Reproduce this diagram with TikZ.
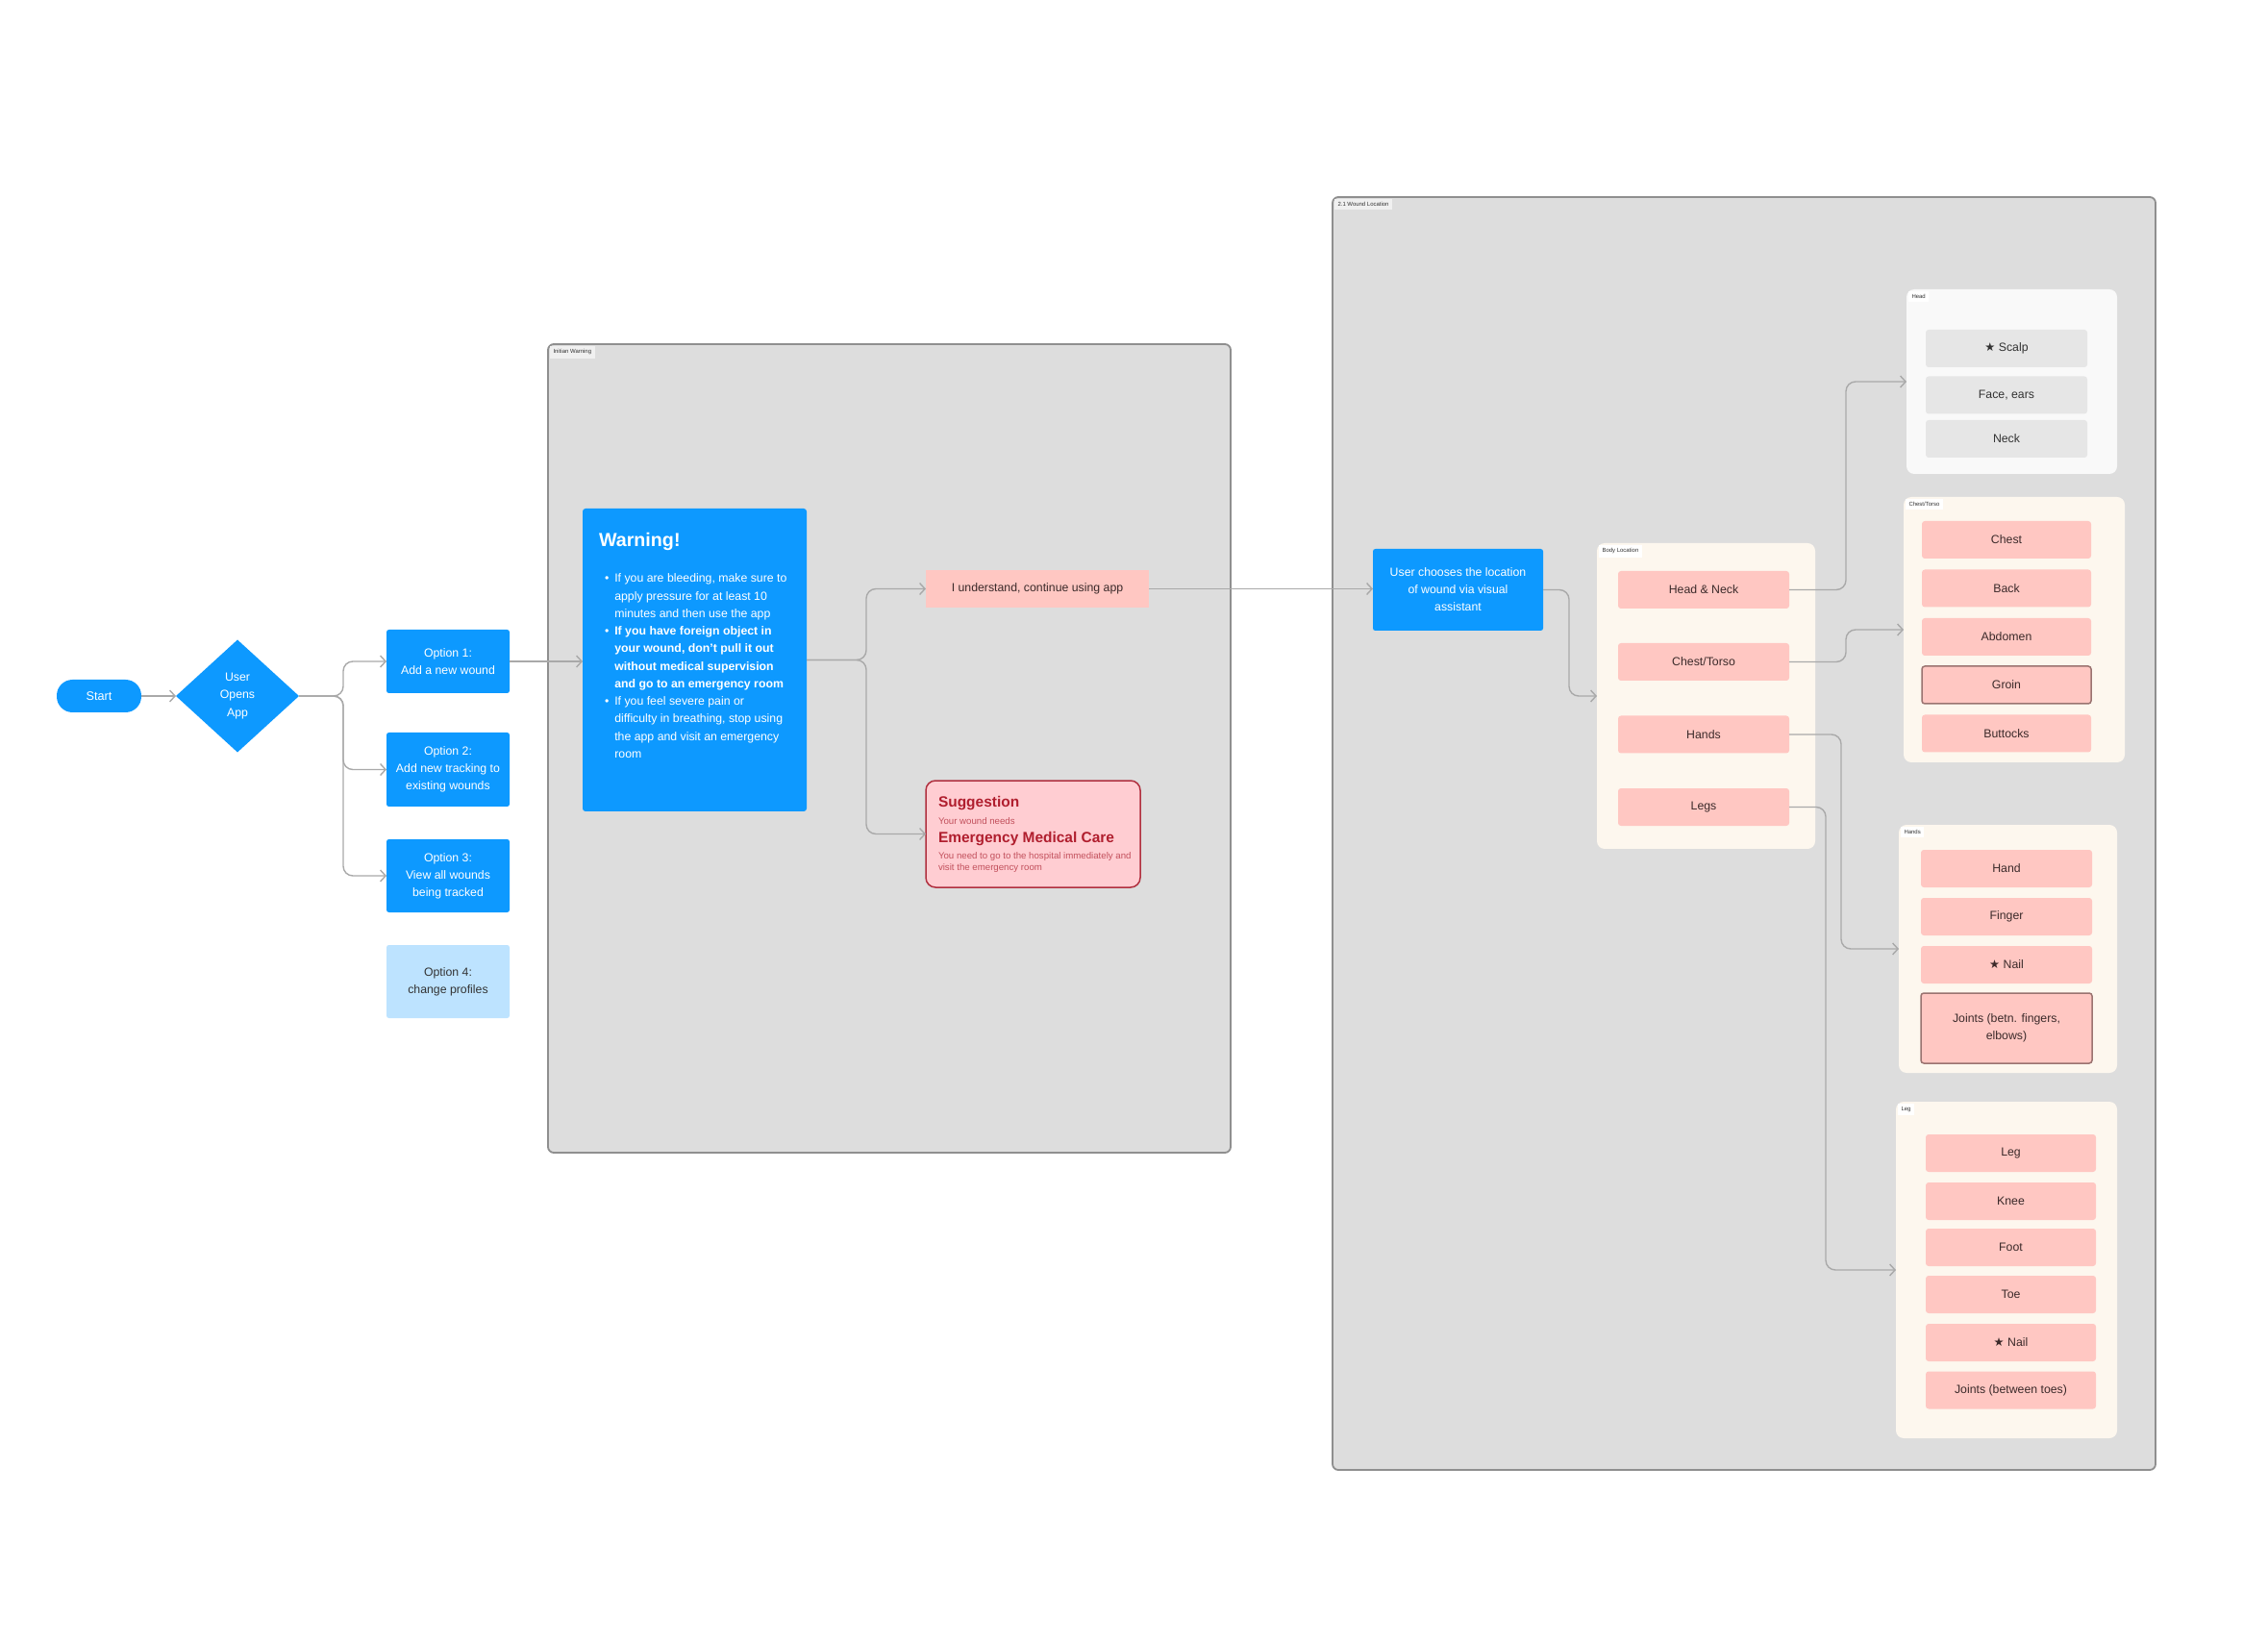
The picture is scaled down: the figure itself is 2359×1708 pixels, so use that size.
\documentclass[tikz,border=0pt]{standalone}
\usepackage{fontspec}
\setmainfont{Liberation Sans}
\newfontfamily\symfont{DejaVu Sans}
\usetikzlibrary{shapes.geometric,arrows.meta}
\newcommand{\fsz}[2]{\fontsize{#1}{#2}\selectfont}
\definecolor{figblue}{HTML}{0D99FF}
\definecolor{lightblue}{HTML}{BDE3FF}
\definecolor{pinkitem}{HTML}{FFC7C2}
\definecolor{framegray}{HTML}{DDDDDD}
\definecolor{frameedge}{HTML}{8F8F8F}
\definecolor{cream}{HTML}{FDF7EE}
\definecolor{headbg}{HTML}{F9F9F9}
\definecolor{grayitem}{HTML}{E6E6E6}
\definecolor{linegray}{HTML}{A9A9A9}
\definecolor{darktext}{HTML}{3B2A2A}
\definecolor{sugfill}{HTML}{FFCDD2}
\definecolor{sugedge}{HTML}{B0303F}
\definecolor{sugtext}{HTML}{B01E2E}
\definecolor{sugsmall}{HTML}{C2505C}
\definecolor{itemedge}{HTML}{9A7370}
\begin{document}
\begin{tikzpicture}[x=0.1mm,y=-0.1mm,
  every node/.style={inner sep=0pt, outer sep=0pt},
  conn/.style={draw=linegray, line width=0.14mm, rounded corners=1mm, -{Straight Barb[length=0.55mm,width=1.2mm]}},
  bigframe/.style={draw=frameedge, fill=framegray, line width=0.18mm, rounded corners=0.6mm},
  subframe/.style={fill=cream, rounded corners=0.8mm},
  tag/.style={fill=white!55!framegray, font=\fsz{1.7}{2}, text=black!80, inner sep=0.35mm, anchor=north west},
  bluebox/.style={fill=figblue, text=white, rounded corners=0.25mm, align=center, font=\fsz{3.5}{5.1}},
  item/.style={fill=pinkitem, text=darktext, rounded corners=0.3mm, align=center, font=\fsz{3.5}{5.1}, minimum height=3.9mm},
  grayit/.style={fill=grayitem, text=black!80, rounded corners=0.3mm, align=center, font=\fsz{3.5}{5.1}, minimum height=3.9mm, minimum width=16.8mm},
  edged/.style={draw=itemedge, line width=0.15mm}
]
\useasboundingbox[fill=white] (0,0) rectangle (2359,1708);

% ---- frames ----
\node[bigframe, minimum width=71mm, minimum height=84.1mm] (fw) at (925,778.5) {};
\node[tag] (tw) at ([shift={(2,2)}]fw.north west) {Initian Warning};
\node[bigframe, minimum width=85.6mm, minimum height=132.4mm] (fl) at (1814,867) {};
\node[tag] (tl) at ([shift={(2,2)}]fl.north west) {2.1 Wound Location};

% ---- left flow ----
\node[fill=figblue, text=white, rounded corners=1.65mm, minimum width=8.8mm, minimum height=3.4mm, font=\fsz{3.6}{5}] (start) at (103,724) {Start};
\node[diamond, fill=figblue, text=white, minimum width=12.8mm, minimum height=11.7mm, align=center, font=\fsz{3.5}{5.3}] (dec) at (247,724) {User\\Opens\\App};
\node[bluebox, minimum width=12.8mm, minimum height=6.6mm] (opt1) at (466,688) {Option 1:\\Add a new wound};
\node[bluebox, minimum width=12.8mm, minimum height=7.7mm] (opt2) at (466,800.5) {Option 2:\\Add new tracking to\\existing wounds};
\node[bluebox, minimum width=12.8mm, minimum height=7.6mm] (opt3) at (466,911) {Option 3:\\View all wounds\\being tracked};
\node[bluebox, fill=lightblue, text=black!80, minimum width=12.8mm, minimum height=7.6mm] (opt4) at (466,1021) {Option 4:\\change profiles};

\coordinate (b1) at (357,724);
\draw[conn] (start) -- (dec);
\draw[conn] (dec.east) -- (b1) |- (opt1.west);
\draw[conn] (dec.east) -- (b1) |- (opt2.west);
\draw[conn] (dec.east) -- (b1) |- (opt3.west);

% ---- warning ----
\node[fill=figblue, rounded corners=0.3mm, minimum width=23.3mm, minimum height=31.5mm] (warn) at (722.5,686.5) {};
\node[anchor=west, text=white, font=\bfseries\fsz{5.6}{6}] (wtitle) at (623,563) {Warning!};
\node[anchor=north west, text=white, font=\fsz{3.5}{5.2}, align=left] (wtext) at (629,593) {%
\begin{tabular}{@{}l@{\hspace{0.6mm}}l@{}}
\textbullet & If you are bleeding, make sure to\\
 & apply pressure for at least 10\\
 & minutes and then use the app\\
\textbullet & \textbf{If you have foreign object in}\\
 & \textbf{your wound, don’t pull it out}\\
 & \textbf{without medical supervision}\\
 & \textbf{and go to an emergency room}\\
\textbullet & If you feel severe pain or\\
 & difficulty in breathing, stop using\\
 & the app and visit an emergency\\
 & room
\end{tabular}};
\draw[conn] (opt1.east) -- (opt1.east -| warn.west);

\node[fill=pinkitem, text=darktext, minimum width=23.2mm, minimum height=3.9mm, font=\fsz{3.5}{5}] (und) at (1079,612.5) {I understand, continue using app};
\node[fill=sugfill, draw=sugedge, line width=0.15mm, rounded corners=1mm, minimum width=22.3mm, minimum height=11.1mm] (sug) at (1074.5,867.5) {};
\node[anchor=west, font=\bfseries\fsz{4.4}{5}, text=sugtext] (s1) at (976,836) {Suggestion};
\node[anchor=west, font=\fsz{2.75}{3.3}, text=sugsmall] (s2) at (976,854) {Your wound needs};
\node[anchor=west, font=\bfseries\fsz{4.4}{5}, text=sugtext] (s3) at (976,873) {Emergency Medical Care};
\node[anchor=west, font=\fsz{2.75}{3.4}, text=sugsmall, align=left] (s4) at (976,897) {You need to go to the hospital immediately and\\visit the emergency room};

\coordinate (b2) at (901,686.5);
\draw[conn] (warn.east) -- (b2) |- (und.west);
\draw[conn] (warn.east) -- (b2) |- (sug.west);

% ---- wound location ----
\node[bluebox, minimum width=17.7mm, minimum height=8.5mm] (choose) at (1516.5,613.5) {User chooses the location\\of wound via visual\\assistant};
\draw[conn] (und.east) -- (und.east -| choose.west);

\node[subframe, minimum width=22.7mm, minimum height=31.8mm] (body) at (1774.5,724) {};
\node[tag, fill=white] (tb) at ([shift={(2,2)}]body.north west) {Body Location};
\node[item, minimum width=17.8mm] (hn) at (1772,613.5) {Head \& Neck};
\node[item, minimum width=17.8mm] (ct) at (1772,688.5) {Chest/Torso};
\node[item, minimum width=17.8mm] (hd) at (1772,764) {Hands};
\node[item, minimum width=17.8mm] (lg) at (1772,839.5) {Legs};

\coordinate (b3) at (1632,613.5);
\draw[conn] (choose.east) -- (b3) |- (body.west);

% head
\node[subframe, fill=headbg, minimum width=21.9mm, minimum height=19.2mm] (headf) at (2092.5,397) {};
\node[tag, fill=white] (th) at ([shift={(2,2)}]headf.north west) {Head};
\node[grayit] (scalp) at (2087,362.5) {{\symfont ★} Scalp};
\node[grayit] (face) at (2087,411) {Face, ears};
\node[grayit] (neck) at (2087,456.5) {Neck};

% chest
\node[subframe, minimum width=23mm, minimum height=27.6mm] (chestf) at (2095,655) {};
\node[tag, fill=white] (tc) at ([shift={(2,2)}]chestf.north west) {Chest/Torso};
\node[item, minimum width=17.6mm] (chest) at (2087,561.5) {Chest};
\node[item, minimum width=17.6mm] (back) at (2087,612) {Back};
\node[item, minimum width=17.6mm] (abd) at (2087,662.5) {Abdomen};
\node[item, edged, minimum width=17.6mm] (groin) at (2087,712.5) {Groin};
\node[item, minimum width=17.6mm] (butt) at (2087,763) {Buttocks};

% hands
\node[subframe, minimum width=22.7mm, minimum height=25.8mm] (handf) at (2088.5,987) {};
\node[tag, fill=white] (tha) at ([shift={(2,2)}]handf.north west) {Hands};
\node[item, minimum width=17.8mm] (hand) at (2087,903.5) {Hand};
\node[item, minimum width=17.8mm] (finger) at (2087,953.5) {Finger};
\node[item, minimum width=17.8mm] (hnail) at (2087,1003.5) {{\symfont ★} Nail};
\node[item, edged, minimum width=17.8mm, minimum height=7.3mm] (hjoint) at (2087,1069.5) {Joints (betn. fingers,\\elbows)};

% legs
\node[subframe, minimum width=23mm, minimum height=35mm] (legf) at (2087,1321) {};
\node[tag, fill=white] (tlg) at ([shift={(2,2)}]legf.north west) {Leg};
\node[item, minimum width=17.7mm] (leg) at (2091.5,1199.5) {Leg};
\node[item, minimum width=17.7mm] (knee) at (2091.5,1249.5) {Knee};
\node[item, minimum width=17.7mm] (foot) at (2091.5,1297.5) {Foot};
\node[item, minimum width=17.7mm] (toe) at (2091.5,1346.5) {Toe};
\node[item, minimum width=17.7mm] (lnail) at (2091.5,1396.5) {{\symfont ★} Nail};
\node[item, minimum width=17.7mm] (ljoint) at (2091.5,1446) {Joints (between toes)};

\coordinate (c1) at (1920,613.5);
\coordinate (c2) at (1920,688.5);
\coordinate (c3) at (1915,764);
\coordinate (c4) at (1899,839.5);
\draw[conn] (hn.east) -- (c1) |- (headf.west);
\draw[conn] (ct.east) -- (c2) |- (chestf.west);
\draw[conn] (hd.east) -- (c3) |- (handf.west);
\draw[conn] (lg.east) -- (c4) |- (legf.west);
\end{tikzpicture}
\end{document}
